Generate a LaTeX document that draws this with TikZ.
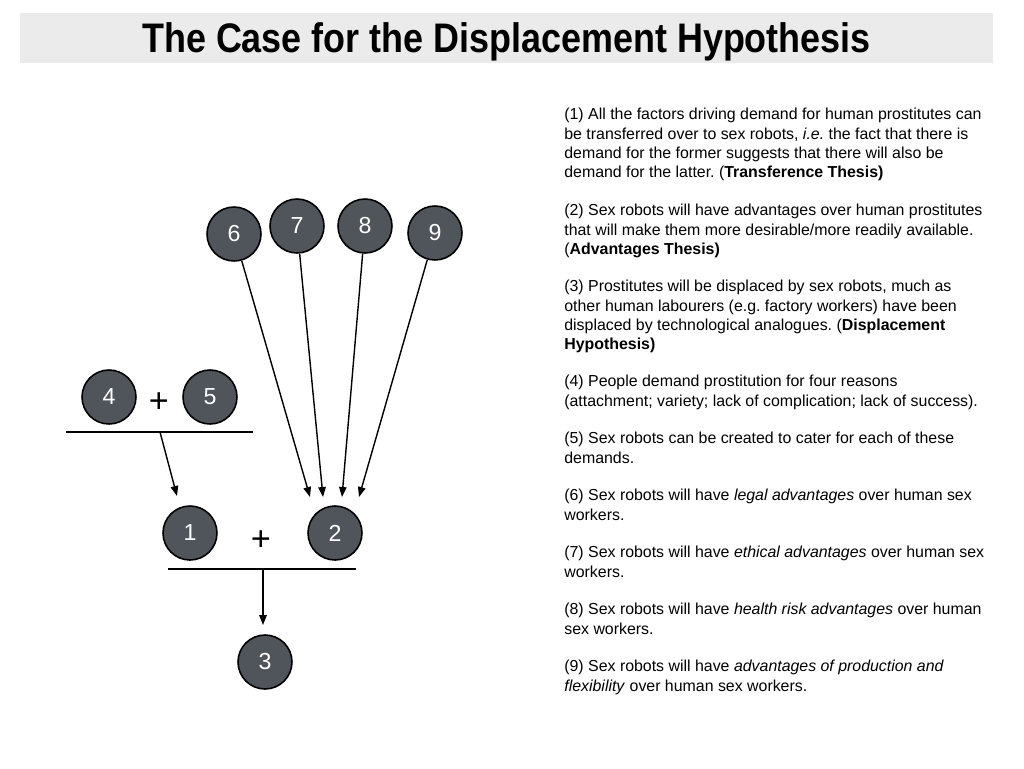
\documentclass[tikz,border=0pt]{standalone}
\usepackage{fontspec}
\setmainfont{Liberation Sans}
\newfontfamily\bannerfont[FakeStretch=0.87]{Liberation Sans}
\usepackage{xcolor}
\usetikzlibrary{arrows.meta}
\definecolor{bannergray}{RGB}{235,235,235}
\definecolor{claimgray}{RGB}{80,84,91}
\frenchspacing

\begin{document}
\begin{tikzpicture}[x=0.02cm, y=-0.02cm,
    claim/.style={circle, draw=black, line width=0.9pt, fill=claimgray, minimum size=1.08cm, inner sep=0pt, text=white, font=\fontsize{13.2}{14}\selectfont},
    plus/.style={font=\fontsize{19.5}{22}\selectfont},
    bar/.style={line width=0.9pt},
    infer/.style={-{Triangle[length=0.2cm, width=0.15cm]}, line width=0.8pt},
    gloss/.style={anchor=north west, inner sep=0pt, align=left, font=\fontsize{9.05}{10.95}\selectfont}]
    \useasboundingbox (0,0) rectangle (1024,768);

    % Title
    \node[fill=bannergray, minimum width=19.46cm, minimum height=1cm, text depth=0pt, font=\bannerfont\fontsize{23.5}{26}\selectfont\bfseries] (title) at (506.5,38) {The Case for the Displacement Hypothesis};

    % Claims
    \node[claim] (n6) at (234,234) {6};
    \node[claim] (n7) at (297,226) {7};
    \node[claim] (n8) at (365,226) {8};
    \node[claim] (n9) at (435,233) {9};
    \node[claim] (n4) at (109,397) {4};
    \node[plus] (p45) at (159,403) {+};
    \node[claim] (n5) at (210,397) {5};
    \node[claim] (n1) at (190,533) {1};
    \node[plus] (p12) at (261,541) {+};
    \node[claim] (n2) at (335,533) {2};
    \node[claim] (n3) at (265,662) {3};

    % Bars
    \coordinate (bar45w) at (66,432);
    \coordinate (bar45e) at (253,432);
    \coordinate (bar45) at (160,432);
    \coordinate (bar12w) at (168,569);
    \coordinate (bar12e) at (356,569);
    \coordinate (bar12) at (263,569);
    \draw[bar] (bar45w) -- (bar45e);
    \draw[bar] (bar12w) -- (bar12e);

    % Arrow ends above 1, 2 and 3
    \coordinate (in1) at (177,496);
    \coordinate (in6) at (310,497);
    \coordinate (in7) at (323,497);
    \coordinate (in8) at (342,497);
    \coordinate (in9) at (359,497);
    \coordinate (in3) at (263,625);

    % Arrows
    \draw[infer] (bar45) -- (in1);
    \draw[infer] (n6) -- (in6);
    \draw[infer] (n7) -- (in7);
    \draw[infer] (n8) -- (in8);
    \draw[infer] (n9) -- (in9);
    \draw[infer] (bar12) -- (in3);

    % Key
    \node[gloss] (k1) at (564,108) {(1) All the factors driving demand for human prostitutes can\\ be transferred over to sex robots, \textit{i.e.} the fact that there is\\ demand for the former suggests that there will also be\\ demand for the latter. (\textbf{Transference Thesis)}};
    \node[gloss] (k2) at (564,204) {(2) Sex robots will have advantages over human prostitutes\\ that will make them more desirable/more readily available.\\ (\textbf{Advantages Thesis)}};
    \node[gloss] (k3) at (564,280) {(3) Prostitutes will be displaced by sex robots, much as\\ other human labourers (e.g. factory workers) have been\\ displaced by technological analogues. (\textbf{Displacement}\\ \textbf{Hypothesis)}};
    \node[gloss] (k4) at (564,375) {(4) People demand prostitution for four reasons\\ (attachment; variety; lack of complication; lack of success).};
    \node[gloss] (k5) at (564,432) {(5) Sex robots can be created to cater for each of these\\ demands.};
    \node[gloss] (k6) at (564,489) {(6) Sex robots will have \textit{legal advantages} over human sex\\ workers.};
    \node[gloss] (k7) at (564,546) {(7) Sex robots will have \textit{ethical advantages} over human sex\\ workers.};
    \node[gloss] (k8) at (564,603) {(8) Sex robots will have \textit{health risk advantages} over human\\ sex workers.};
    \node[gloss] (k9) at (564,660) {(9) Sex robots will have \textit{advantages of production and}\\ \textit{flexibility} over human sex workers.};
\end{tikzpicture}
\end{document}
